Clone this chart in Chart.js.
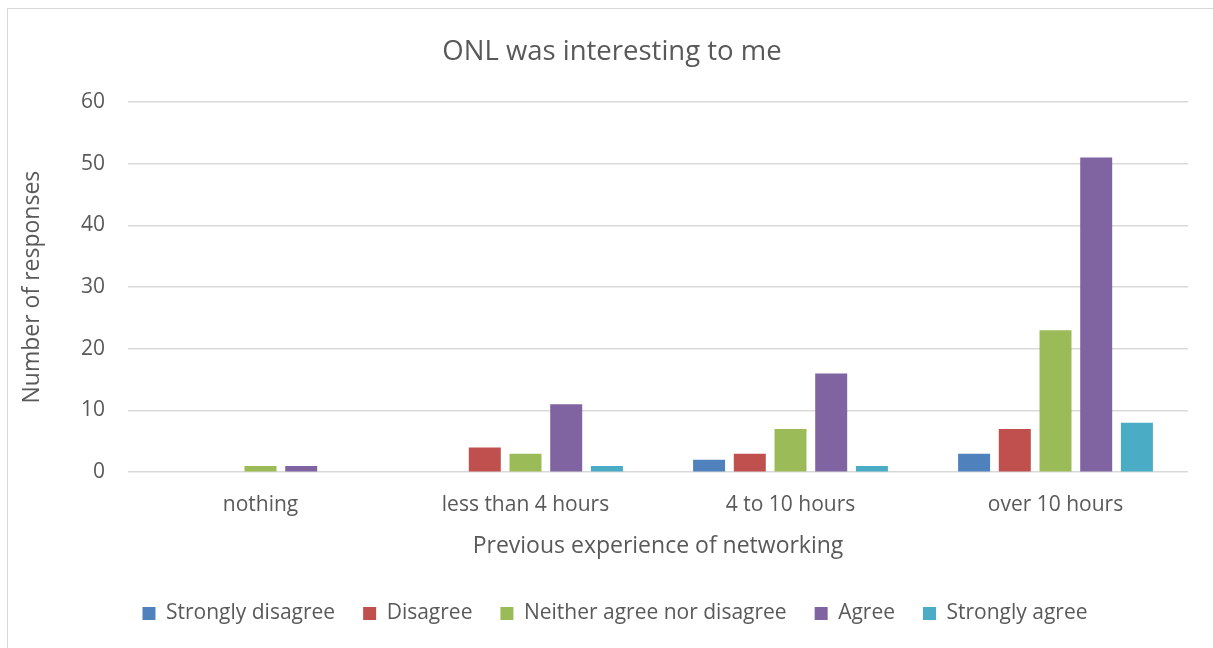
<!DOCTYPE html>
<html>
<head>
<meta charset="utf-8">
<script src="https://cdn.jsdelivr.net/npm/chart.js@4"></script>
<style>
  html, body { margin: 0; padding: 0; background: #fff; }
  #wrap { position: relative; width: 1213px; height: 648px; overflow: hidden; }
  #frame { position: absolute; left: 7px; top: 8px; width: 1300px; height: 700px; border: 1px solid #d9d9d9; box-sizing: border-box; }
  canvas { position: absolute; left: 0; top: 0; }
</style>
</head>
<body>
<div id="wrap">
  <div id="frame"></div>
  <canvas id="chart" width="1213" height="648"></canvas>
</div>
<script>
var categories = ['nothing', 'less than 4 hours', '4 to 10 hours', 'over 10 hours'];
var stronglyDisagree = [0, 0, 2, 3];
var disagree = [0, 4, 3, 7];
var neither = [1, 3, 7, 23];
var agree = [1, 11, 16, 51];
var stronglyAgree = [0, 1, 1, 8];

var textColor = '#595959';
var fontFamily = '"Open Sans", "Segoe UI", sans-serif';

// title and legend sit a little right of the plot centre in the original
var shiftBoxes = {
  id: 'shiftBoxes',
  afterLayout: function(chart) {
    chart.titleBlock.left += 18;
    chart.titleBlock.right += 18;
    chart.legend.left += 21;
    chart.legend.right += 21;
  }
};

var ctx = document.getElementById('chart');

var barChart = new Chart(ctx, {
  type: 'bar',
  data: {
    labels: categories,
    datasets: [
      { label: 'Strongly disagree', backgroundColor: '#4F81BD', data: stronglyDisagree },
      { label: 'Disagree', backgroundColor: '#C0504D', data: disagree },
      { label: 'Neither agree nor disagree', backgroundColor: '#9BBB59', data: neither },
      { label: 'Agree', backgroundColor: '#8064A2', data: agree },
      { label: 'Strongly agree', backgroundColor: '#4BACC6', data: stronglyAgree }
    ]
  },
  plugins: [shiftBoxes],
  options: {
    responsive: false,
    animation: false,
    devicePixelRatio: 1,
    datasets: {
      bar: { categoryPercentage: 0.768, barPercentage: 0.786 }
    },
    layout: { padding: { left: 0, right: 25, top: 0, bottom: 14 } },
    plugins: {
      title: {
        display: true,
        text: 'ONL was interesting to me',
        color: textColor,
        font: { family: fontFamily, size: 27.5, weight: 'normal' },
        padding: { top: 36, bottom: 33 }
      },
      legend: {
        position: 'bottom',
        labels: {
          color: textColor,
          font: { family: fontFamily, size: 21 },
          boxWidth: 13,
          boxHeight: 13,
          padding: 28
        }
      },
      tooltip: { enabled: false }
    },
    scales: {
      x: {
        grid: { display: false, drawTicks: false },
        border: { display: false },
        ticks: { color: textColor, font: { family: fontFamily, size: 21 }, padding: 20 },
        title: {
          display: true,
          text: 'Previous experience of networking',
          color: textColor,
          font: { family: fontFamily, size: 23 },
          padding: { top: -5, bottom: 15 }
        }
      },
      y: {
        min: 0,
        max: 60,
        ticks: { stepSize: 10, color: textColor, font: { family: fontFamily, size: 21 }, padding: 23 },
        grid: { color: '#d9d9d9', lineWidth: 1.5, drawTicks: false },
        border: { display: false },
        title: {
          display: true,
          text: 'Number of responses',
          color: textColor,
          font: { family: fontFamily, size: 23 },
          padding: { top: 19, bottom: 0 }
        },
        afterFit: function(scale) { scale.width = 128; }
      }
    }
  }
});
</script>
</body>
</html>
